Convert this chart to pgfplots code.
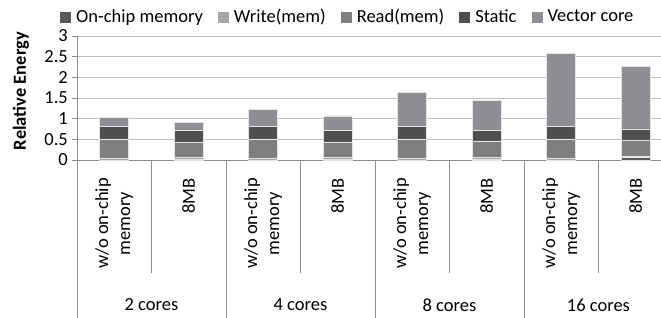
\documentclass[border=0pt]{standalone}
\usepackage{pgfplots}
\pgfplotsset{compat=1.18}
\usepackage{fontspec}
\setmainfont{Carlito}
\definecolor{cOn}{HTML}{5A5A5A}
\definecolor{cWr}{HTML}{A5A5A5}
\definecolor{cRd}{HTML}{7F7F7F}
\definecolor{cSt}{HTML}{4F4F4F}
\definecolor{cVc}{HTML}{8E8F93}
\definecolor{cEdge}{HTML}{E4E4E4}
\definecolor{cAx}{HTML}{8C8C8C}
\definecolor{cGrid}{HTML}{C0C0C0}
\begin{document}
\fontsize{18.5}{22}\selectfont
\begin{tikzpicture}
\path[use as bounding box] (0,0) rectangle (661pt,318pt);
\begin{axis}[
  at={(77pt,158pt)}, anchor=south west,
  scale only axis, width=584pt, height=124pt,
  xmin=-0.5, xmax=7.34, ymin=0, ymax=3,
  ybar stacked, bar width=29pt,
  ytick={0,0.5,1,1.5,2,2.5,3},
  yticklabels={0,0.5,1,1.5,2,2.5,3},
  xtick=\empty,
  axis x line*=bottom, axis y line*=left,
  axis line style={draw=cAx, line width=0.8pt, -},
  ymajorgrids, grid style={draw=cGrid, line width=0.8pt},
  tick align=outside, major tick length=5pt,
  ytick style={draw=cAx, line width=0.8pt},
  yticklabel style={inner sep=0pt, xshift=-4pt},
  ylabel={Relative Energy},
  ylabel style={at={(rel axis cs:-0.096,0.556)}, anchor=center, font=\bfseries},
  clip=false,
  legend columns=5,
  legend style={draw=none, fill=none, at={(rel axis cs:0.462,1.153)}, anchor=center,
    /tikz/every even column/.append style={column sep=15pt},
    /tikz/every odd column/.append style={column sep=5pt},
    nodes={inner sep=0pt}},
  legend image code/.code={\fill[#1, draw=none] (0pt,-5.5pt) rectangle (11pt,5.5pt);},
  every axis plot/.append style={draw=cEdge, line width=0.7pt},
]
\addplot[fill=cOn] coordinates {(0,0) (1,0.005) (2,0) (3,0.008) (4,0) (5,0.015) (6,0) (7,0.055)};
\addlegendentry{On-chip memory}
\addplot[fill=cWr] coordinates {(0,0.05) (1,0.05) (2,0.05) (3,0.05) (4,0.05) (5,0.05) (6,0.05) (7,0.045)};
\addlegendentry{Write(mem)}
\addplot[fill=cRd] coordinates {(0,0.46) (1,0.38) (2,0.46) (3,0.38) (4,0.46) (5,0.395) (6,0.46) (7,0.38)};
\addlegendentry{Read(mem)}
\addplot[fill=cSt] coordinates {(0,0.305) (1,0.285) (2,0.30) (3,0.27) (4,0.30) (5,0.25) (6,0.31) (7,0.27)};
\addlegendentry{Static}
\addplot[fill=cVc] coordinates {(0,0.225) (1,0.18) (2,0.42) (3,0.36) (4,0.835) (5,0.73) (6,1.76) (7,1.51)};
\addlegendentry{Vector core}
\tikzset{sep/.style={draw=cAx, line width=0.8pt},
  rot/.style={rotate=90, anchor=east, align=center, inner sep=0pt}}
\draw[sep] (axis cs:-0.5,0) -- ([yshift=-158pt]axis cs:-0.5,0);
\draw[sep] (axis cs:0.5,0) -- ([yshift=-113pt]axis cs:0.5,0);
\draw[sep] (axis cs:1.5,0) -- ([yshift=-158pt]axis cs:1.5,0);
\draw[sep] (axis cs:2.5,0) -- ([yshift=-113pt]axis cs:2.5,0);
\draw[sep] (axis cs:3.5,0) -- ([yshift=-158pt]axis cs:3.5,0);
\draw[sep] (axis cs:4.5,0) -- ([yshift=-113pt]axis cs:4.5,0);
\draw[sep] (axis cs:5.5,0) -- ([yshift=-158pt]axis cs:5.5,0);
\draw[sep] (axis cs:6.5,0) -- ([yshift=-113pt]axis cs:6.5,0);
\node[rot] at ([yshift=-18pt]axis cs:0,0) {w/o on-chip\\memory};
\node[rot] at ([yshift=-18pt]axis cs:1,0) {8MB};
\node[rot] at ([yshift=-18pt]axis cs:2,0) {w/o on-chip\\memory};
\node[rot] at ([yshift=-18pt]axis cs:3,0) {8MB};
\node[rot] at ([yshift=-18pt]axis cs:4,0) {w/o on-chip\\memory};
\node[rot] at ([yshift=-18pt]axis cs:5,0) {8MB};
\node[rot] at ([yshift=-18pt]axis cs:6,0) {w/o on-chip\\memory};
\node[rot] at ([yshift=-18pt]axis cs:7,0) {8MB};
\node at ([yshift=-145pt]axis cs:0.5,0) {2 cores};
\node at ([yshift=-145pt]axis cs:2.5,0) {4 cores};
\node at ([yshift=-145pt]axis cs:4.5,0) {8 cores};
\node at ([yshift=-145pt]axis cs:6.5,0) {16 cores};
\end{axis}
\end{tikzpicture}
\end{document}
